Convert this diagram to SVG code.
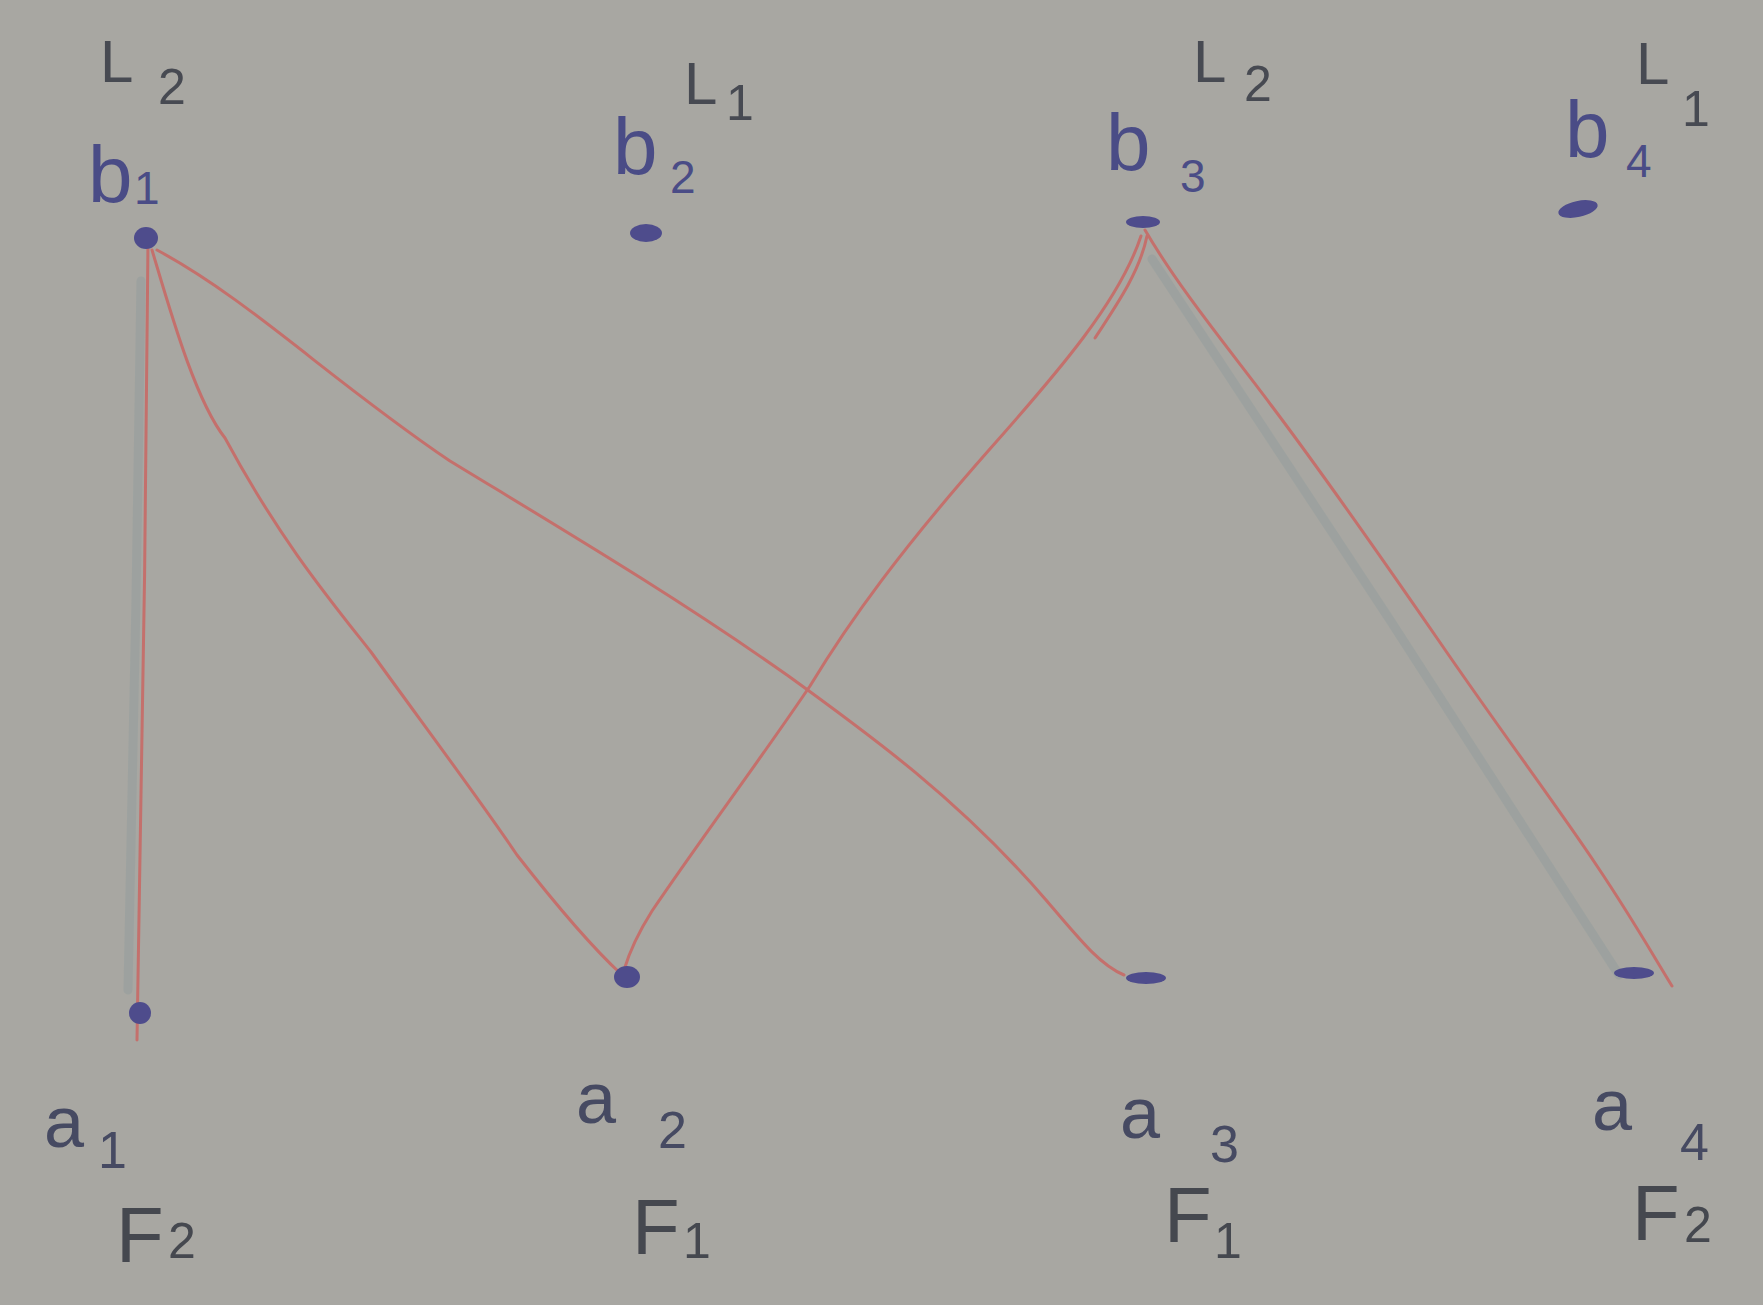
<svg xmlns="http://www.w3.org/2000/svg" width="1763" height="1305" viewBox="0 0 1763 1305">
<style>
.lbl{font-family:"Liberation Sans","DejaVu Sans",sans-serif;fill:#444757}
.lvl{font-size:60px;fill:#474a52}
.lvs{font-size:50px;fill:#474a52}
.b{font-size:80px;fill:#4a4c86}
.bs{font-size:46px;fill:#4a4c86}
.a{font-size:72px;fill:#464a62}
.as{font-size:52px;fill:#464a62}
.f{font-size:78px;fill:#45484f}
.fs{font-size:50px;fill:#45484f}
.edge{fill:none;stroke:#c4706c;stroke-width:3;stroke-linecap:round;stroke-linejoin:round}
.shade{fill:none;stroke:#9aa09f;stroke-width:9;stroke-linecap:round;opacity:0.8}
.node{fill:#4e4c8c}
</style>
<rect width="1763" height="1305" fill="#a8a7a2"/>
<g id="connectors">
<path class="shade" d="M141,281 L136,600 L128,990"/>
<path class="shade" d="M1152,259 L1390,620 L1619,975"/>
<path class="edge" d="M148,242 C146,500 142,800 137,1040"/>
<path class="edge" d="M152,250 C170,310 195,400 225,438 C280,540 330,600 371,652 C420,720 480,800 517,855 C560,910 595,950 621,974"/>
<path class="edge" d="M157,250 C250,300 330,380 450,461 C560,528 675,596 787,675 C870,735 960,800 1046,900 C1080,940 1100,965 1124,975"/>
<path class="edge" d="M1141,236 C1120,300 1060,370 989,450 C900,551 850,620 810,686 C760,760 700,840 652,911 C640,930 630,950 624,970"/>
<path class="edge" d="M1147,236 C1140,270 1120,300 1095,338"/>
<path class="edge" d="M1145,230 C1180,290 1230,350 1271,405 C1320,470 1390,570 1439,641 C1500,730 1560,810 1597,866 C1630,915 1650,950 1672,986"/>
</g>
<g id="b1"><ellipse class="node" cx="146" cy="238" rx="12" ry="11"/><text class="lbl"><tspan class="b" x="88" y="202">b</tspan><tspan class="bs" x="134" y="204">1</tspan></text><text class="lbl"><tspan class="lvl" x="100" y="82">L</tspan><tspan class="lvs" x="158" y="104">2</tspan></text></g>
<g id="b2"><ellipse class="node" cx="646" cy="233" rx="16" ry="9"/><text class="lbl"><tspan class="b" x="613" y="174">b</tspan><tspan class="bs" x="670" y="193">2</tspan></text><text class="lbl"><tspan class="lvl" x="684" y="104">L</tspan><tspan class="lvs" x="726" y="120">1</tspan></text></g>
<g id="b3"><ellipse class="node" cx="1143" cy="222" rx="17" ry="6"/><text class="lbl"><tspan class="b" x="1106" y="170">b</tspan><tspan class="bs" x="1180" y="192">3</tspan></text><text class="lbl"><tspan class="lvl" x="1193" y="82">L</tspan><tspan class="lvs" x="1244" y="101">2</tspan></text></g>
<g id="b4"><ellipse class="node" cx="1578" cy="209" rx="20" ry="8" transform="rotate(-12 1578 209)"/><text class="lbl"><tspan class="b" x="1565" y="157">b</tspan><tspan class="bs" x="1626" y="177">4</tspan></text><text class="lbl"><tspan class="lvl" x="1636" y="84">L</tspan><tspan class="lvs" x="1682" y="126">1</tspan></text></g>
<g id="a1"><ellipse class="node" cx="140" cy="1013" rx="11" ry="11"/><text class="lbl"><tspan class="a" x="44" y="1147">a</tspan><tspan class="as" x="98" y="1168">1</tspan></text><text class="lbl"><tspan class="f" x="116" y="1262">F</tspan><tspan class="fs" x="168" y="1258">2</tspan></text></g>
<g id="a2"><ellipse class="node" cx="627" cy="977" rx="13" ry="11"/><text class="lbl"><tspan class="a" x="576" y="1123">a</tspan><tspan class="as" x="658" y="1148">2</tspan></text><text class="lbl"><tspan class="f" x="632" y="1254">F</tspan><tspan class="fs" x="683" y="1258">1</tspan></text></g>
<g id="a3"><ellipse class="node" cx="1146" cy="978" rx="20" ry="6"/><text class="lbl"><tspan class="a" x="1120" y="1138">a</tspan><tspan class="as" x="1210" y="1162">3</tspan></text><text class="lbl"><tspan class="f" x="1164" y="1242">F</tspan><tspan class="fs" x="1214" y="1258">1</tspan></text></g>
<g id="a4"><ellipse class="node" cx="1634" cy="973" rx="20" ry="6"/><text class="lbl"><tspan class="a" x="1592" y="1130">a</tspan><tspan class="as" x="1680" y="1160">4</tspan></text><text class="lbl"><tspan class="f" x="1632" y="1240">F</tspan><tspan class="fs" x="1684" y="1242">2</tspan></text></g>
</svg>
